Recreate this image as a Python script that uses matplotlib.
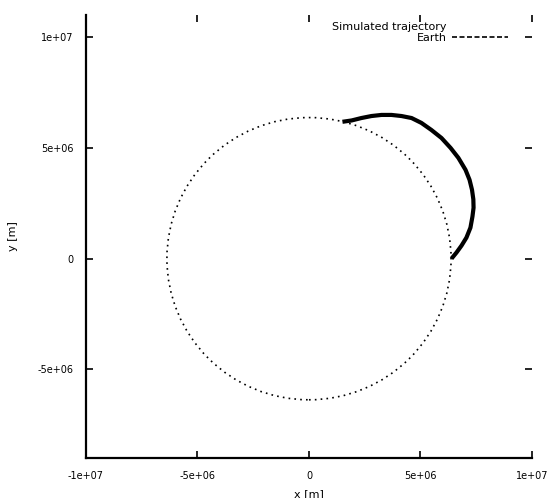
import matplotlib.pyplot as plt
from matplotlib.patches import Circle
from matplotlib.lines import Line2D

# Radio terrestre (m)
radio_tierra = 6.371e6

# Trayectoria (m)
tray_x = [1.50e6, 1.91e6, 2.35e6, 2.80e6, 3.25e6, 3.70e6, 4.15e6, 4.60e6,
          5.04e6, 5.49e6, 5.94e6, 6.35e6, 6.70e6, 7.02e6, 7.20e6, 7.31e6,
          7.37e6, 7.38e6, 7.33e6, 7.24e6, 7.06e6, 6.84e6, 6.61e6, 6.39e6]
tray_y = [6.18e6, 6.24e6, 6.35e6, 6.44e6, 6.49e6, 6.49e6, 6.44e6, 6.35e6,
          6.13e6, 5.81e6, 5.45e6, 5.00e6, 4.55e6, 4.01e6, 3.56e6, 3.11e6,
          2.68e6, 2.30e6, 1.90e6, 1.40e6, 0.95e6, 0.59e6, 0.27e6, 0.0]

xticks = [-1e7, -5e6, 0, 5e6, 1e7]
xlabels = ['-1e+07', '-5e+06', '0', '5e+06', '1e+07']
yticks = [-5e6, 0, 5e6, 1e7]
ylabels = ['-5e+06', '0', '5e+06', '1e+07']

fig = plt.figure(figsize=(5.53, 4.98), dpi=100)
ax = fig.add_axes([0.1555, 0.0803, 0.8065, 0.8895])

ax.plot(tray_x, tray_y, color='black', lw=3.0, solid_capstyle='butt',
        solid_joinstyle='round')
ax.add_patch(Circle((0, 0), radio_tierra, fill=False, edgecolor='black',
                    lw=1.2, linestyle=(0, (1, 2.5))))

ax.set_xlim(-1e7, 1e7)
ax.set_ylim(-9e6, 1.1e7)
ax.set_xticks(xticks, xlabels)
ax.set_yticks(yticks, ylabels)
ax.tick_params(direction='in', length=5, width=1.2, labelsize=7, pad=9,
               top=True, right=True)
for lado in ['top', 'right']:
    ax.spines[lado].set_visible(False)
for lado in ['left', 'bottom']:
    ax.spines[lado].set_linewidth(1.6)

ax.set_xlabel('x [m]', fontsize=8, labelpad=6)
ax.set_ylabel('y [m]', fontsize=8, labelpad=14)

manejadores = [Line2D([], [], color='none'),
               Line2D([], [], color='black', lw=1.2, linestyle=(0, (3, 1.5)))]
ax.legend(manejadores, ['Simulated trajectory', 'Earth'], loc='upper right',
          bbox_to_anchor=(0.946, 0.985), frameon=False, fontsize=8,
          markerfirst=False, handlelength=5, handletextpad=0.5,
          labelspacing=0.1, borderpad=0, borderaxespad=0)

fig.savefig('out.png', dpi=100)
